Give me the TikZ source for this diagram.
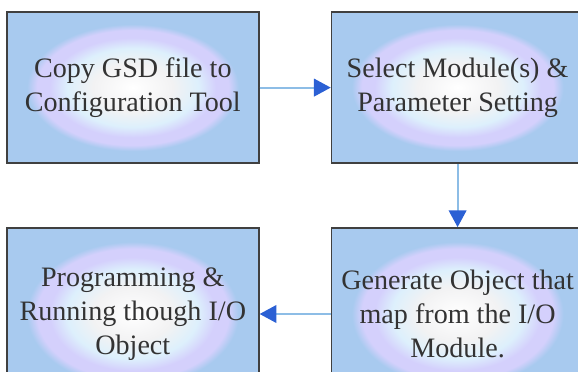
\documentclass[tikz,border=0pt]{standalone}
\usepackage{fontspec}
\setmainfont{Liberation Serif}
\newfontfamily\boxfont{Liberation Serif}
\usepackage{tikz}
\usetikzlibrary{arrows.meta,positioning,calc}
\definecolor{boxblue}{HTML}{A8CAEF}
\definecolor{glowlav}{HTML}{D4D0FC}
\definecolor{glowcyan}{HTML}{DDF0FC}
\definecolor{glowwhite}{HTML}{F2F2F3}
\definecolor{linkblue}{HTML}{8DBDE6}
\definecolor{headblue}{HTML}{2B60D4}
\pgfdeclareradialshading{boxglow}{\pgfpoint{0bp}{0bp}}{color(0bp)=(white); color(8bp)=(glowwhite); color(13bp)=(glowcyan); color(16.5bp)=(glowlav); color(19bp)=(glowlav); color(21bp)=(boxblue); color(50bp)=(boxblue)}
\tikzset{stepbox/.style={shading=boxglow, draw=black!75, line width=1.2pt, minimum width=6.3cm, align=center, font=\boxfont\fontsize{20}{24}\selectfont, text=black!80},
	link/.style={draw=linkblue, line width=1.5pt, -{Triangle[length=4.2mm, width=4.4mm, color=headblue]}}}
\begin{document}
\begin{tikzpicture}
		\clip (0,0) rectangle (14.45,-9.3);
		\node [stepbox, minimum height=3.78cm](copy_gsd) at (3.32,-2.19) {Copy GSD file to\\Configuration Tool};
		\node [stepbox, minimum height=3.78cm](select_mod) at (11.44,-2.19) {Select Module(s) \&\\Parameter Setting};
		\node [stepbox, minimum height=4.3cm](gen_obj) at (11.44,-7.85) {Generate Object that\\map from the I/O\\Module.};
		\node [stepbox, minimum height=4.3cm](run_prog) at (3.32,-7.85) {Programming \&\\Running though I/O\\Object};
		\draw [link] (copy_gsd) -- (select_mod);
		\draw [link] (select_mod) -- (gen_obj);
		\draw [link] (gen_obj) -- (run_prog);
\end{tikzpicture}
\end{document}
